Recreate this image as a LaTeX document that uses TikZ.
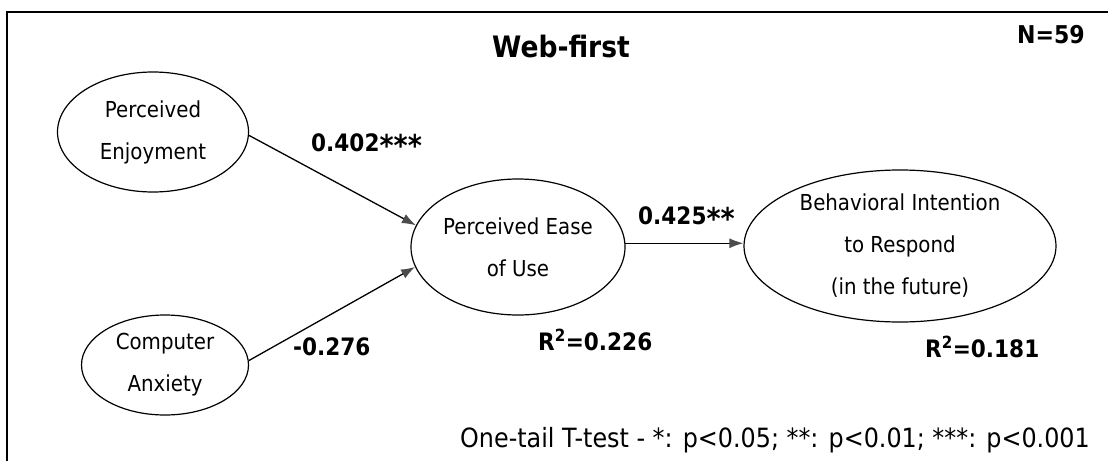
\documentclass[tikz,border=0pt]{standalone}
\usepackage{fontspec}
\setmainfont{DejaVu Sans}[FakeStretch=0.9]
\usetikzlibrary{shapes.geometric,arrows.meta}
\newcommand{\bigast}[1]{\raisebox{-5pt}{\fontsize{30}{30}\selectfont#1}}
\tikzset{
  latent/.style={draw, ellipse, line width=1.2pt, inner sep=0pt, align=center,
    font=\fontsize{22}{42}\selectfont},
  coef/.style={font=\fontsize{24}{28}\selectfont\bfseries, inner sep=0pt},
  path/.style={line width=1.3pt, -{Latex[length=14pt,width=10pt,color=black!70]}},
}
\begin{document}
\begin{tikzpicture}[x=1pt,y=-1pt]
\useasboundingbox (0,0) rectangle (1108,461);
\draw[line width=1.5pt] (7,461) -- (7,12) -- (1108,12);

\node[font=\fontsize{29.5}{32}\selectfont\bfseries, inner sep=0pt] (title) at (561,46.5) {Web-first};
\node[font=\fontsize{24.5}{28}\selectfont\bfseries, inner sep=0pt] (n) at (1051,35) {N=59};

\node[latent, minimum width=191pt, minimum height=120pt] (pe) at (153,132) {Perceived\\Enjoyment};
\node[latent, minimum width=214pt, minimum height=136pt] (peu) at (518,247) {Perceived Ease\\of Use};
\node[latent, minimum width=167pt, minimum height=100pt] (ca) at (165,365) {Computer\\Anxiety};
\node[latent, minimum width=312pt, minimum height=152pt] (bi) at (900,246) {Behavioral Intention\\to Respond\\(in the future)};

\draw[path] (pe.-2) -- (peu.168.8);
\draw[path] (ca.3.4) -- (peu.191.5);
\draw[path] (peu.2) -- (peu.2 -| bi.west);

\node[coef, anchor=west] (c1) at (311,145) {0.402\bigast{***}};
\node[coef, anchor=west] (c2) at (638,218) {0.425\bigast{**}};
\node[coef, anchor=west] (c3) at (293,347) {-0.276};
\node[coef, anchor=west] (r1) at (538,340) {R\textsuperscript{2}=0.226};
\node[coef, anchor=west] (r2) at (925,347) {R\textsuperscript{2}=0.181};

\node[font=\fontsize{26.5}{30}\selectfont, inner sep=0pt, anchor=base east] (note) at (1090,447) {One-tail T-test - *: p<0.05; **: p<0.01; ***: p<0.001};
\end{tikzpicture}
\end{document}
